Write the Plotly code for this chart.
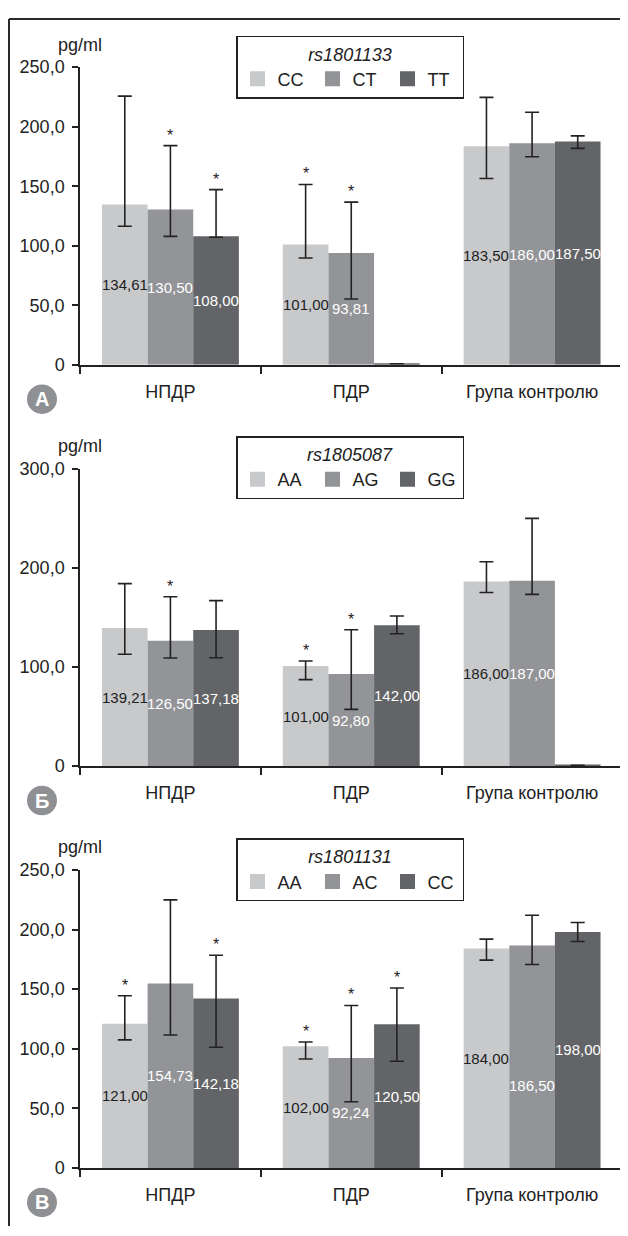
import plotly.graph_objects as go

# ---------------- data ----------------
categories = ["НПДР", "ПДР", "Група контролю"]

# Panel A  rs1801133
A_snp = "rs1801133"
A_geno = ["CC", "CT", "TT"]
A_CC = [134.61, 101.00, 183.50]
A_CT = [130.50, 93.81, 186.00]
A_TT = [108.00, 0.8, 187.50]          # PDR TT: no carriers (flat bar)
A_CC_hi = [225.7, 151.5, 224.6]
A_CC_lo = [116.4, 89.7, 156.5]
A_CT_hi = [184.1, 136.6, 212.2]
A_CT_lo = [107.9, 55.2, 174.7]
A_TT_hi = [147.1, 0.8, 192.3]
A_TT_lo = [107.1, 0.8, 181.8]
A_CC_sig = [0, 1, 0]
A_CT_sig = [1, 1, 0]
A_TT_sig = [1, 0, 0]
A_ticks = [0, 50, 100, 150, 200, 250]
A_ticktext = ["0", "50,0", "100,0", "150,0", "200,0", "250,0"]

# Panel B  rs1805087
B_snp = "rs1805087"
B_geno = ["AA", "AG", "GG"]
B_AA = [139.21, 101.00, 186.00]
B_AG = [126.50, 92.80, 187.00]
B_GG = [137.18, 142.00, 0.8]          # control GG: no carriers (flat bar)
B_AA_hi = [184.0, 106.0, 206.1]
B_AA_lo = [112.7, 87.2, 175.1]
B_AG_hi = [170.8, 137.4, 249.8]
B_AG_lo = [109.0, 57.2, 173.1]
B_GG_hi = [166.8, 151.3, 0.8]
B_GG_lo = [109.3, 133.5, 0.8]
B_AA_sig = [0, 1, 0]
B_AG_sig = [1, 1, 0]
B_GG_sig = [0, 0, 0]
B_ticks = [0, 100, 200, 300]
B_ticktext = ["0", "100,0", "200,0", "300,0"]

# Panel C  rs1801131
C_snp = "rs1801131"
C_geno = ["AA", "AC", "CC"]
C_AA = [121.00, 102.00, 184.00]
C_AC = [154.73, 92.24, 186.50]
C_CC = [142.18, 120.50, 198.00]
C_AA_hi = [144.5, 105.7, 191.9]
C_AA_lo = [107.4, 91.4, 174.3]
C_AC_hi = [224.9, 136.3, 212.0]
C_AC_lo = [111.5, 55.6, 170.7]
C_CC_hi = [178.4, 150.9, 205.9]
C_CC_lo = [101.3, 89.5, 190.0]
C_AA_sig = [1, 1, 0]
C_AC_sig = [0, 1, 0]
C_CC_sig = [1, 1, 0]
C_ticks = [0, 50, 100, 150, 200, 250]
C_ticktext = ["0", "50,0", "100,0", "150,0", "200,0", "250,0"]

panel_letters = ["А", "Б", "В"]

# ---------------- style ----------------
# The page body has an 8px margin, so the figure is sized to fit the 628x1236 window
# and every placement below is given in window pixels, then converted.
PAGE_OFF = 8
W, H = 628 - PAGE_OFF, 1236 - PAGE_OFF


def px(x):
    return (x - PAGE_OFF) / W


def py(y):
    return 1 - (y - PAGE_OFF) / H


colors = ["#c8c9cb", "#939497", "#636467"]
label_colors = ["#1e1e1e", "#ffffff", "#ffffff"]
INK = "#222222"
FONT = "Liberation Sans, Arial, Helvetica, sans-serif"
BARGAP = 0.243

X0, X1 = 80, 622.5
panels = [
    dict(snp=A_snp, geno=A_geno, vals=[A_CC, A_CT, A_TT],
         hi=[A_CC_hi, A_CT_hi, A_TT_hi], lo=[A_CC_lo, A_CT_lo, A_TT_lo],
         sig=[A_CC_sig, A_CT_sig, A_TT_sig], ticks=A_ticks, ticktext=A_ticktext,
         top=58, bottom=360.5, leg_top=26, unit_y=35),
    dict(snp=B_snp, geno=B_geno, vals=[B_AA, B_AG, B_GG],
         hi=[B_AA_hi, B_AG_hi, B_GG_hi], lo=[B_AA_lo, B_AG_lo, B_GG_lo],
         sig=[B_AA_sig, B_AG_sig, B_GG_sig], ticks=B_ticks, ticktext=B_ticktext,
         top=466, bottom=768.5, leg_top=433, unit_y=443),
    dict(snp=C_snp, geno=C_geno, vals=[C_AA, C_AC, C_CC],
         hi=[C_AA_hi, C_AC_hi, C_CC_hi], lo=[C_AA_lo, C_AC_lo, C_CC_lo],
         sig=[C_AA_sig, C_AC_sig, C_CC_sig], ticks=C_ticks, ticktext=C_ticktext,
         top=874, bottom=1177, leg_top=842, unit_y=851),
]

fig = go.Figure()
annotations = []
shapes = []
layout = {}

bar_w = (1 - BARGAP) / 3

for p_i, p in enumerate(panels):
    sfx = "" if p_i == 0 else str(p_i + 1)
    xa, ya = "x" + sfx, "y" + sfx
    leg = "legend" + sfx
    for j in range(3):
        v = p["vals"][j]
        plus = [h - y for h, y in zip(p["hi"][j], v)]
        minus = [y - l for l, y in zip(p["lo"][j], v)]
        fig.add_trace(go.Bar(
            x=categories, y=v, xaxis=xa, yaxis=ya, name=p["geno"][j],
            marker=dict(color=colors[j], line=dict(width=0)),
            showlegend=False, hoverinfo="skip",
            error_y=dict(type="data", symmetric=False, array=plus, arrayminus=minus,
                         color=INK, thickness=1.6, width=7),
        ))
        # legend swatch
        fig.add_trace(go.Scatter(
            x=[None], y=[None], xaxis=xa, yaxis=ya, mode="markers", name=p["geno"][j],
            marker=dict(symbol="square", size=15, color=colors[j]),
            legend=leg, showlegend=True,
        ))
        for i, cat in enumerate(categories):
            xpos = i + (j - 1) * bar_w
            if v[i] >= 1:
                yshift = 0
                if p_i == 2 and i == 2 and j == 1:
                    yshift = -29
                annotations.append(dict(
                    x=xpos, y=v[i] / 2, xref=xa, yref=ya, text=f"{v[i]:.2f}".replace(".", ","),
                    showarrow=False, yshift=yshift,
                    font=dict(family=FONT, size=15, color=label_colors[j])))
            if p["sig"][j][i]:
                annotations.append(dict(
                    x=xpos, y=p["hi"][j][i], xref=xa, yref=ya, text="*", showarrow=False,
                    yanchor="bottom", yshift=0, font=dict(family=FONT, size=16, color=INK)))

    layout["xaxis" + sfx] = dict(
        domain=[px(X0), px(X1)], anchor=ya, type="category", range=[-0.5, 2.5],
        showline=True, linecolor=INK, linewidth=1.5, ticks="outside", tickson="boundaries",
        ticklen=7, tickwidth=1.5, tickcolor=INK, showgrid=False, zeroline=False,
        tickfont=dict(family=FONT, size=18, color=INK), ticklabelstandoff=10,
    )
    layout["yaxis" + sfx] = dict(
        domain=[py(p["bottom"]), py(p["top"])], anchor=xa, range=[0, p["ticks"][-1]],
        tickmode="array", tickvals=p["ticks"], ticktext=p["ticktext"], showline=True,
        linecolor=INK, linewidth=1.5, ticks="outside", ticklen=6, tickwidth=1.5,
        tickcolor=INK, showgrid=False, zeroline=False,
        tickfont=dict(family=FONT, size=18, color=INK), ticklabelstandoff=4,
    )
    layout[leg] = dict(
        title=dict(text=f"<i>{p['snp']}</i>", side="top center",
                   font=dict(family=FONT, size=18, color=INK)),
        orientation="h", x=px(236), xanchor="left", y=py(p["leg_top"]), yanchor="top",
        bgcolor="white", bordercolor=INK, borderwidth=1.5,
        font=dict(family=FONT, size=18, color=INK), entrywidth=30, entrywidthmode="pixels",
        itemclick=False, itemdoubleclick=False, tracegroupgap=0,
    )
    # unit label
    annotations.append(dict(x=px(80), y=py(p["unit_y"]), xref="paper", yref="paper",
                            text="pg/ml", showarrow=False, xanchor="center", yanchor="middle",
                            font=dict(family=FONT, size=18, color=INK)))
    # panel letter circle
    cy = p["bottom"] + 35
    shapes.append(dict(type="circle", xref="paper", yref="paper",
                       x0=px(27), x1=px(57), y0=py(cy + 15), y1=py(cy - 15),
                       fillcolor="#8f9093", line=dict(width=0)))
    annotations.append(dict(x=px(42), y=py(cy), xref="paper", yref="paper",
                            text=f"<b>{panel_letters[p_i]}</b>", showarrow=False,
                            xanchor="center", yanchor="middle",
                            font=dict(family=FONT, size=20, color="white")))

# outer frame (top and left edges)
shapes.append(dict(type="line", xref="paper", yref="paper", x0=px(9), x1=1,
                   y0=py(9), y1=py(9), line=dict(color="#2a2a2a", width=2)))
shapes.append(dict(type="line", xref="paper", yref="paper", x0=px(9), x1=px(9),
                   y0=py(9), y1=0, line=dict(color="#2a2a2a", width=2)))

fig.update_layout(
    width=W, height=H, margin=dict(l=0, r=0, t=0, b=0),
    paper_bgcolor="white", plot_bgcolor="white",
    barmode="group", bargap=BARGAP, bargroupgap=0,
    font=dict(family=FONT, size=18, color=INK),
    annotations=annotations, shapes=shapes, hovermode=False,
    **layout,
)

fig.write_html("out.html")
